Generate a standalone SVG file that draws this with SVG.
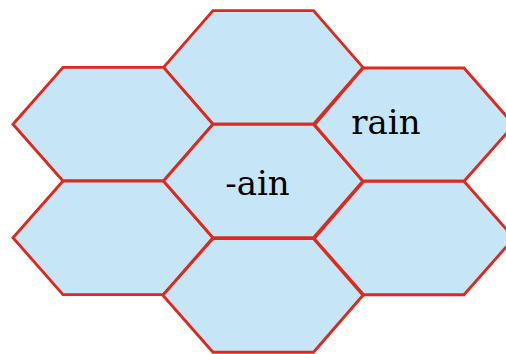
<svg xmlns="http://www.w3.org/2000/svg" width="506" height="354" viewBox="0 0 506 354">
<style>
.hex{fill:#c6e5f7;stroke:#dc2a1e;stroke-width:2.9;stroke-linejoin:miter}
.lbl{font-family:"DejaVu Serif",serif;font-size:34px;fill:#000;text-anchor:middle}
</style>
<rect width="506" height="354" fill="#fff"/>
<g id="hex-top"><polygon class="hex" points="163.5,67.4 213,10.6 313.5,10.6 363,67.4 313.5,124.2 213,124.2"/></g>
<g id="hex-upper-left"><polygon class="hex" points="13,124.2 63,67.4 163.5,67.4 213,124.2 163.5,181 63,181"/></g>
<g id="hex-lower-left"><polygon class="hex" points="13,237.8 63,181 163.5,181 213,237.8 163.5,294.6 63,294.6"/></g>
<g id="hex-center"><polygon class="hex" points="163.5,181 213,124.2 313.5,124.2 363,181 313.5,237.8 213,237.8"/><text class="lbl" x="257.5" y="195">-ain</text></g>
<g id="hex-rain"><polygon class="hex" points="314.5,124.8 363,68 464,68 514,124.8 464,181.2 363,181.2"/><text class="lbl" x="386" y="134.3">rain</text></g>
<g id="hex-lower-right"><polygon class="hex" points="314.2,238.6 363.6,181.2 464,181.2 514,238 464,294.8 363.6,294.8"/></g>
<g id="hex-bottom"><polygon class="hex" points="162.8,295.2 213,238.6 313.5,238.6 363,295.2 313.5,352.2 213,352.2"/></g>
<g id="connectors"></g>
</svg>
